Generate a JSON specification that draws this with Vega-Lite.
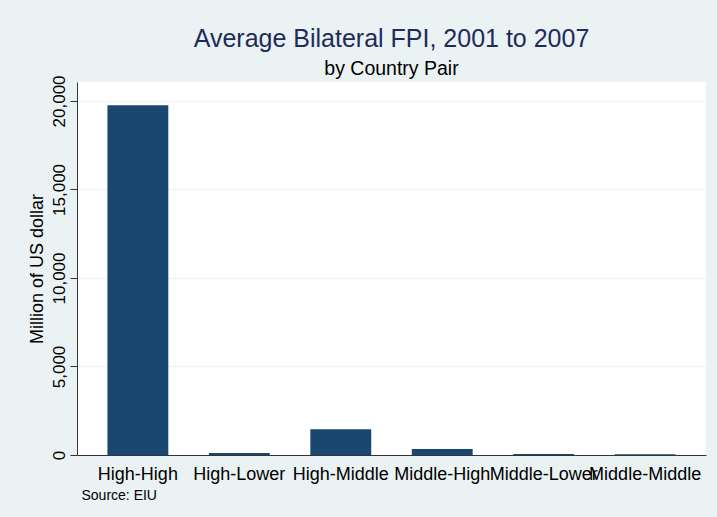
{
  "$schema": "https://vega.github.io/schema/vega-lite/v6.json",
  "width": 629,
  "height": 373,
  "autosize": {"type": "none"},
  "padding": {"left": 77, "top": 82, "right": 11, "bottom": 62},
  "background": "#EAF2F3",
  "title": {
    "text": "Average Bilateral FPI, 2001 to 2007",
    "subtitle": "by Country Pair",
    "anchor": "middle",
    "frame": "group",
    "font": "Liberation Sans",
    "fontSize": 25,
    "fontWeight": "normal",
    "color": "#1E2C5A",
    "subtitleFont": "Liberation Sans",
    "subtitleFontSize": 19.5,
    "subtitleColor": "#000000",
    "subtitlePadding": 8,
    "offset": -4
  },
  "config": {"view": {"stroke": null, "fill": "white"}},
  "data": {
    "values": [
      {"pair": "High-High", "value": 19750},
      {"pair": "High-Lower", "value": 120},
      {"pair": "High-Middle", "value": 1450},
      {"pair": "Middle-High", "value": 340},
      {"pair": "Middle-Lower", "value": 50},
      {"pair": "Middle-Middle", "value": 45}
    ]
  },
  "mark": {"type": "bar", "color": "#1A476F"},
  "encoding": {
    "x": {
      "field": "pair",
      "type": "nominal",
      "sort": null,
      "scale": {"paddingInner": 0.4, "paddingOuter": 0.3},
      "axis": {
        "title": "Source: EIU",
        "labelAngle": 0,
        "labelFont": "Liberation Sans",
        "labelFontSize": 18,
        "labelColor": "#000000",
        "labelPadding": 10,
        "labelOverlap": false,
        "labelBound": false,
        "ticks": false,
        "tickSize": 0,
        "domainColor": "#333333",
        "titleFont": "Liberation Sans",
        "titleFontSize": 14,
        "titleFontWeight": "normal",
        "titleColor": "#000000",
        "titleAnchor": "start",
        "titleAlign": "left",
        "titlePadding": 5,
        "titleX": 4
      }
    },
    "y": {
      "field": "value",
      "type": "quantitative",
      "scale": {"domain": [0, 21070], "nice": false},
      "axis": {
        "title": "Million of US dollar",
        "values": [0, 5000, 10000, 15000, 20000],
        "format": ",.0f",
        "labelAngle": -90,
        "labelAlign": "center",
        "labelBaseline": "bottom",
        "labelFont": "Liberation Sans",
        "labelFontSize": 17,
        "labelColor": "#000000",
        "labelPadding": 1.5,
        "tickSize": 7,
        "tickColor": "#333333",
        "domainColor": "#333333",
        "gridColor": "#EAF2F3",
        "gridWidth": 1,
        "titleFont": "Liberation Sans",
        "titleFontSize": 18,
        "titleFontWeight": "normal",
        "titleColor": "#000000",
        "titlePadding": 4
      }
    }
  }
}
